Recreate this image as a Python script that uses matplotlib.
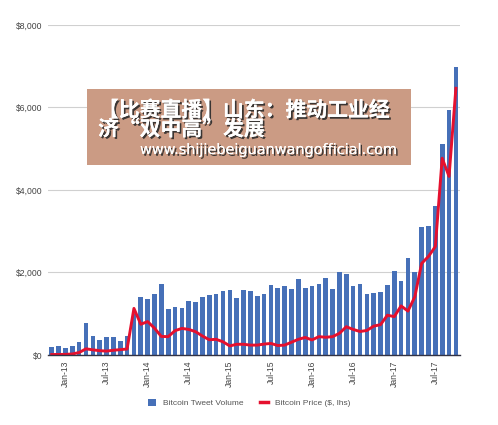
import matplotlib
matplotlib.use('Agg')
from matplotlib import pyplot as plt
from matplotlib import patheffects as pe
from matplotlib.patches import Patch
from matplotlib.lines import Line2D
import numpy as np

# monthly data, Nov-12 .. Oct-17
months = ['Nov-12', 'Dec-12',
          'Jan-13', 'Feb-13', 'Mar-13', 'Apr-13', 'May-13', 'Jun-13',
          'Jul-13', 'Aug-13', 'Sep-13', 'Oct-13', 'Nov-13', 'Dec-13',
          'Jan-14', 'Feb-14', 'Mar-14', 'Apr-14', 'May-14', 'Jun-14',
          'Jul-14', 'Aug-14', 'Sep-14', 'Oct-14', 'Nov-14', 'Dec-14',
          'Jan-15', 'Feb-15', 'Mar-15', 'Apr-15', 'May-15', 'Jun-15',
          'Jul-15', 'Aug-15', 'Sep-15', 'Oct-15', 'Nov-15', 'Dec-15',
          'Jan-16', 'Feb-16', 'Mar-16', 'Apr-16', 'May-16', 'Jun-16',
          'Jul-16', 'Aug-16', 'Sep-16', 'Oct-16', 'Nov-16', 'Dec-16',
          'Jan-17', 'Feb-17', 'Mar-17', 'Apr-17', 'May-17', 'Jun-17',
          'Jul-17', 'Aug-17', 'Sep-17', 'Oct-17']

tweet_volume = [200, 225,
                180, 225, 320, 770, 470, 360,
                430, 445, 340, 470, 1000, 1410,
                1350, 1480, 1720, 1110, 1170, 1150,
                1320, 1290, 1410, 1455, 1480, 1560,
                1575, 1380, 1580, 1550, 1430, 1470,
                1700, 1620, 1670, 1600, 1850, 1620,
                1670, 1710, 1870, 1610, 2010, 1960,
                1670, 1710, 1470, 1495, 1535, 1700,
                2035, 1795, 2345, 2020, 3110, 3125,
                3620, 5110, 5950, 6990]

btc_price = [12, 13,
             15, 25, 60, 150, 125, 105,
             95, 115, 130, 145, 1130, 745,
             810, 650, 450, 445, 590, 645,
             620, 565, 460, 370, 380, 320,
             220, 260, 260, 240, 240, 265,
             280, 230, 240, 310, 380, 425,
             365, 445, 430, 445, 525, 685,
             620, 570, 595, 700, 735, 965,
             930, 1190, 1065, 1410, 2220, 2390,
             2630, 4770, 4330, 6465]

y_ticks = [0, 2000, 4000, 6000, 8000]
y_labels = ['$0', '$2,000', '$4,000', '$6,000', '$8,000']

blue = '#4670b8'
red = '#e5102e'

plt.rcParams['font.family'] = ['Liberation Sans', 'DejaVu Sans']

fig = plt.figure(figsize=(4.98, 4.25), dpi=100)
ax = fig.add_axes([0.097, 0.1647, 0.8267, 0.7765])

x = np.arange(len(months))
ax.bar(x, tweet_volume, width=0.68, color=blue, zorder=2)
ax.plot(x, btc_price, color=red, lw=2.1, solid_joinstyle='round', zorder=3)

ax.set_xlim(-0.5, 59.6)
ax.set_ylim(0, 8000)
ax.set_yticks(y_ticks)
ax.set_yticklabels(y_labels)
ax.grid(axis='y', color='#d0d0d0', lw=0.8, zorder=0)

jan_jul = [i for i, m in enumerate(months) if m.startswith(('Jan', 'Jul'))]
ax.set_xticks(jan_jul)
ax.set_xticklabels([months[i] for i in jan_jul], rotation=90)
ax.tick_params(axis='both', length=0, labelsize=6.2, colors='#444444')
ax.tick_params(axis='x', pad=4)
ax.tick_params(axis='y', pad=4)

for s in ['top', 'right', 'left']:
    ax.spines[s].set_visible(False)
ax.spines['bottom'].set_color('#333344')
ax.spines['bottom'].set_linewidth(1.0)
ax.spines['bottom'].set_zorder(4)

handles = [Patch(facecolor=blue, edgecolor='none'),
           Line2D([0], [0], color=red, lw=2.5)]
fig.legend(handles, ['Bitcoin Tweet Volume', 'Bitcoin Price ($, lhs)'],
           loc='center', bbox_to_anchor=(0.5, 0.052), ncol=2, frameon=False,
           fontsize=6, labelcolor='#555555', handlelength=1.0, handleheight=1.0,
           columnspacing=2.0, handletextpad=0.8)

# watermark banner over the chart
banner = plt.Rectangle((87 / 498, 1 - 165 / 425), (411 - 87) / 498, (165 - 89) / 425,
                       transform=fig.transFigure, facecolor='#cb9b84', edgecolor='none',
                       zorder=10)
fig.add_artist(banner)

shadow = [pe.withSimplePatchShadow(offset=(1.3, -1.3), shadow_rgbFace='#2a2a2a', alpha=0.9),
          pe.Normal()]
cjk = ['Noto Sans CJK SC', 'DejaVu Sans']
fig.text(98 / 498, 1 - 110 / 425, '【比赛直播】山东：推动工业经', family=cjk,
         fontsize=15, fontweight='bold', color='white', va='center', ha='left',
         path_effects=shadow, zorder=11)
fig.text(98 / 498, 1 - 129 / 425, '济“双中高”发展', family=cjk,
         fontsize=15, fontweight='bold', color='white', va='center', ha='left',
         path_effects=shadow, zorder=11)
fig.text(140 / 498, 1 - 150 / 425, 'www.shijiebeiguanwangofficial.com',
         family=['DejaVu Sans'], fontsize=10.4, color='white', va='center', ha='left',
         path_effects=shadow, zorder=11)

fig.savefig('out.png', dpi=100)
